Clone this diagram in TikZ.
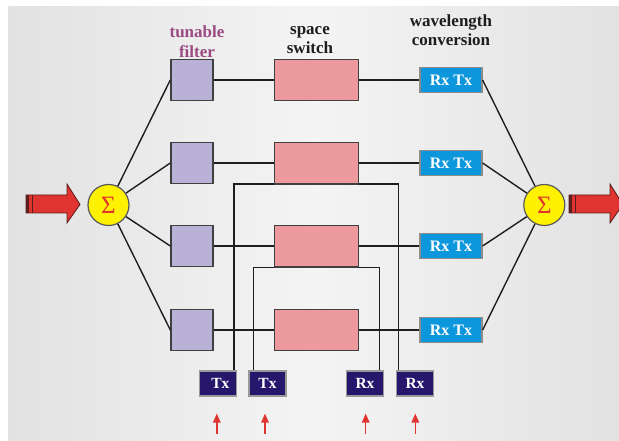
\documentclass[tikz,border=0pt]{standalone}
\usepackage{fontspec}
\setmainfont{Liberation Serif}
\usetikzlibrary{arrows.meta,calc}
\definecolor{bgA}{RGB}{196,196,196}
\definecolor{bgB}{RGB}{226,226,226}
\definecolor{bgC}{RGB}{244,244,244}
\definecolor{filt}{RGB}{185,177,214}
\definecolor{swc}{RGB}{237,154,158}
\definecolor{blu}{RGB}{12,150,220}
\definecolor{navy}{RGB}{38,22,108}
\definecolor{ylw}{RGB}{255,242,0}
\definecolor{arr}{RGB}{224,52,48}
\definecolor{arrd}{RGB}{90,30,30}
\definecolor{lbl}{RGB}{155,75,130}
\definecolor{ink}{RGB}{30,30,30}
\pgfdeclarehorizontalshading{bgsh}{100bp}{color(0bp)=(bgA); color(25bp)=(bgB); color(50bp)=(bgC); color(75bp)=(bgB); color(100bp)=(bgA)}
\tikzset{
  filtbox/.style={draw=ink!85,line width=1.4pt,fill=filt,minimum width=42pt,minimum height=41pt,inner sep=0pt},
  swbox/.style={draw=ink!85,line width=1.4pt,fill=swc,minimum width=84pt,minimum height=41pt,inner sep=0pt},
  rtbox/.style={draw=black!45,line width=1.2pt,fill=blu,minimum width=62pt,minimum height=25pt,inner sep=0pt,text=white,font=\bfseries\fontsize{16}{16}\selectfont},
  iobox/.style={draw=black!40,line width=1.2pt,fill=navy,minimum width=37pt,minimum height=25pt,inner sep=0pt,text=white,font=\bfseries\fontsize{15.5}{15.5}\selectfont},
  sumnode/.style={circle,draw=black!65,line width=1.2pt,fill=ylw,minimum size=41pt,inner sep=0pt,text=arr,font=\fontsize{25}{25}\selectfont},
  wire/.style={draw=ink,line width=1.4pt},
  lab/.style={align=center,font=\bfseries\fontsize{17}{19.5}\selectfont,inner sep=0pt},
  bigarrow/.style={fill=arr,draw=arrd,line width=0.8pt},
  smallarrow/.style={draw=arr,line width=1.5pt,-{Triangle[length=9pt,width=7.5pt]}}
}
\begin{document}
\begin{tikzpicture}[x=1pt,y=-1pt]
\useasboundingbox (0,0) rectangle (619,441);
\fill[white] (0,0) rectangle (619,441);
\shade[shading=bgsh] (8.5,6.5) rectangle (619,441);

% labels
\node[lab,text=lbl,anchor=base] (l1) at (197,57.3) {tunable\\filter};
\node[lab,text=ink,anchor=base] (l2) at (310,54) {space\\switch};
\node[lab,text=ink,anchor=base] (l3) at (451,45.7) {wavelength\\conversion};

% sum nodes
\node[sumnode] (sl) at (108.5,205) {Σ};
\node[sumnode] (sr) at (544.3,205) {Σ};

% rows
\foreach \i/\y in {1/80,2/163,3/246,4/330}{
  \node[filtbox] (f\i) at (192,\y) {};
  \node[swbox] (s\i) at (316.3,\y) {};
  \node[rtbox] (r\i) at (451,\y) {Rx Tx};
}
\foreach \i in {1,2,3,4}{
  \draw[wire] (sl) -- (f\i.west);
  \draw[wire] (f\i.east) -- (s\i.west);
  \draw[wire] (s\i.east) -- (r\i.west);
  \draw[wire] (r\i.east) -- (sr);
}

% bottom Tx / Rx
\node[iobox] (tx1) at (218.3,383.5) {\hspace{4pt}Tx};
\node[iobox] (tx2) at (267.5,383.5) {Tx};
\node[iobox] (rx1) at (365,383.5) {Rx};
\node[iobox] (rx2) at (415,383.5) {Rx};

\coordinate (a1) at ([xshift=-3.3pt]tx1.north east);
\coordinate (b1) at ([xshift=2.5pt]rx2.north west);
\coordinate (a2) at ([xshift=5pt]tx2.north west);
\coordinate (b2) at ([xshift=-4.8pt]rx1.north east);
\draw[wire] (a1) -- (a1 |- s2.south) -- (b1 |- s2.south) -- (b1);
\draw[wire] (a2) -- (a2 |- s3.south) -- (b2 |- s3.south) -- (b2);
% redraw switch bottom edges on top
\draw[draw=ink!85,line width=1.4pt] (s2.south west) -- (s2.south east);
\draw[draw=ink!85,line width=1.4pt] (s3.south west) -- (s3.south east);

% small red arrows
\draw[smallarrow] ($(tx1.south)+(-1.5,37)$) -- ($(tx1.south)+(-1.5,17)$);
\draw[smallarrow] ($(tx2.south)+(-2.5,37)$) -- ($(tx2.south)+(-2.5,17)$);
\draw[smallarrow] ($(rx1.south)+(0.7,37)$) -- ($(rx1.south)+(0.7,17)$);
\draw[smallarrow] ($(rx2.south)+(0.3,37)$) -- ($(rx2.south)+(0.3,17)$);

% big arrows
\draw[bigarrow] (26,195) -- (67,195) -- (67,184) -- (80,204.5) -- (67,223) -- (67,213) -- (26,213) -- cycle;
\fill[arrd] (26,195) rectangle (29.3,213);
\draw[arrd,line width=1.5pt] (32.5,195) -- (32.5,213);
\draw[bigarrow] (569,195) -- (610,195) -- (610,184) -- (623,204.5) -- (610,223) -- (610,213) -- (569,213) -- cycle;
\fill[arrd] (569,195) rectangle (572.3,213);
\draw[arrd,line width=1.5pt] (575.5,195) -- (575.5,213);
\end{tikzpicture}
\end{document}
